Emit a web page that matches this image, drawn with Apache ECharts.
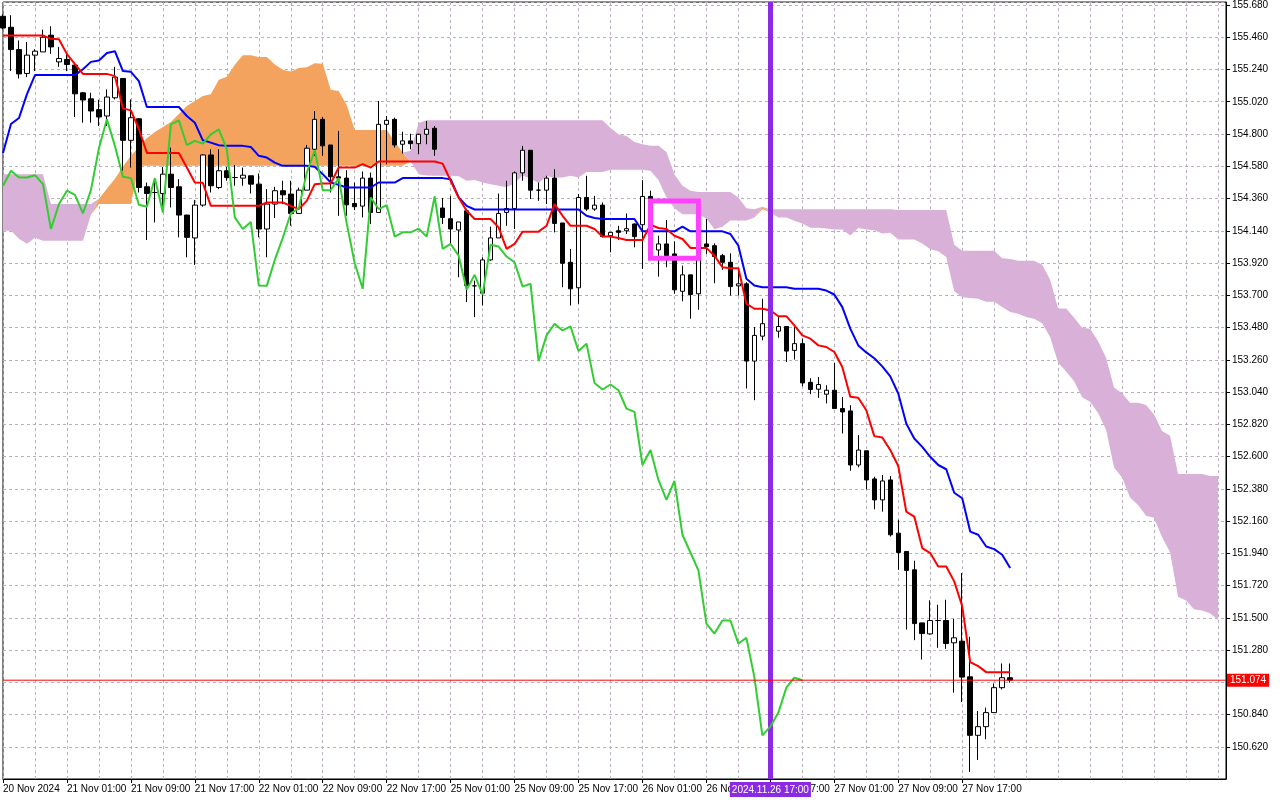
<!DOCTYPE html>
<html>
<head>
<meta charset="utf-8">
<script src="https://cdn.jsdelivr.net/npm/echarts@6/dist/echarts.min.js"></script>
<style>html,body{margin:0;padding:0;background:#fff}#chart{width:1280px;height:800px}</style>
</head>
<body>
<div id="chart"></div>
<script>
// ---- data (USDJPY H1, Ichimoku) ----
const tickLabels = ['20 Nov 2024','21 Nov 01:00','21 Nov 09:00','21 Nov 17:00','22 Nov 01:00','22 Nov 09:00',
  '22 Nov 17:00','25 Nov 01:00','25 Nov 09:00','25 Nov 17:00','26 Nov 01:00','26 Nov 09:00','26 Nov 17:00',
  '27 Nov 01:00','27 Nov 09:00','27 Nov 17:00'];

const opens = [
155.603,155.528,155.376,155.213,155.338,155.360,155.474,155.292,155.308,155.270,
155.081,155.040,154.966,154.923,155.047,155.179,154.757,154.904,154.440,154.401,
154.394,154.526,154.440,154.247,154.091,154.315,154.657,154.435,154.549,154.503,
154.499,154.515,154.458,154.152,154.322,154.413,154.390,154.258,154.417,154.696,
154.900,154.725,154.508,154.499,154.326,154.308,154.499,154.265,154.866,154.900,
154.730,154.753,154.734,154.798,154.839,154.295,154.222,154.145,154.276,153.764,
153.714,153.941,154.091,154.265,154.292,154.535,154.689,154.417,154.417,154.499,
154.193,153.925,153.751,154.367,154.288,154.315,154.106,154.140,154.140,154.186,
154.181,154.374,154.009,154.050,153.982,153.727,153.839,153.710,154.050,154.038,
153.970,153.925,153.764,153.778,153.251,153.421,153.506,153.455,153.487,153.324,
153.370,153.106,153.059,153.025,153.052,152.927,152.911,152.542,152.639,152.447,
152.304,152.440,152.077,151.952,151.827,151.465,151.390,151.481,151.481,151.329,
151.340,151.097,150.698,150.757,150.853,151.023,151.091];

const closes = [
155.523,155.376,155.210,155.338,155.365,155.460,155.394,155.315,155.274,155.074,
155.032,154.957,154.916,155.052,155.188,154.757,154.911,154.435,154.394,154.401,
154.526,154.435,154.247,154.095,154.315,154.657,154.447,154.549,154.503,154.503,
154.519,154.458,154.152,154.322,154.413,154.385,154.258,154.417,154.703,154.900,
154.719,154.508,154.499,154.317,154.304,154.499,154.265,154.866,154.893,154.725,
154.753,154.734,154.798,154.832,154.696,154.231,154.152,154.200,153.766,153.764,
153.941,154.091,154.258,154.292,154.535,154.689,154.417,154.417,154.499,154.190,
153.918,153.744,154.367,154.288,154.315,154.100,154.129,154.129,154.154,154.100,
154.374,154.016,154.050,153.970,153.737,153.839,153.705,154.045,154.032,153.964,
153.925,153.759,153.778,153.251,153.426,153.506,153.460,153.487,153.319,153.370,
153.102,153.057,153.091,153.052,152.927,152.904,152.542,152.644,152.440,152.304,
152.433,152.066,151.945,151.823,151.460,151.392,151.481,151.481,151.324,151.363,
151.095,150.698,150.757,150.853,151.023,151.091,151.074];

const highs = [
155.617,155.610,155.438,155.428,155.379,155.512,155.535,155.394,155.342,155.276,
155.086,155.081,155.034,155.104,155.258,155.181,155.036,154.909,154.469,154.492,
154.576,154.707,154.492,154.249,154.349,154.662,154.696,154.696,154.576,154.589,
154.571,154.515,154.530,154.424,154.440,154.481,154.481,154.435,154.725,154.957,
154.916,154.725,154.821,154.553,154.469,154.544,154.537,155.025,154.923,154.911,
154.816,154.802,154.802,154.889,154.855,154.363,154.378,154.200,154.290,153.800,
153.959,154.168,154.394,154.481,154.544,154.719,154.689,154.469,154.515,154.560,
154.193,154.016,154.390,154.515,154.378,154.333,154.129,154.174,154.258,154.190,
154.485,154.413,154.106,154.213,154.068,153.902,153.839,154.100,154.220,154.054,
153.982,153.986,153.880,153.789,153.483,153.676,153.542,153.551,153.487,153.483,
153.404,153.134,153.142,153.086,153.238,153.006,152.950,152.746,152.639,152.462,
152.474,152.467,152.168,151.952,151.889,151.465,151.619,151.589,151.623,151.492,
151.805,151.370,150.864,150.887,151.052,151.188,151.188];

const lows = [
155.515,155.229,155.179,155.188,155.229,155.360,155.347,155.258,155.229,154.916,
154.877,154.877,154.855,154.855,155.036,154.549,154.571,154.401,154.077,154.197,
154.276,154.299,154.095,153.959,153.907,154.304,154.401,154.424,154.481,154.447,
154.447,154.394,154.095,153.959,154.227,154.322,154.174,154.254,154.417,154.651,
154.651,154.401,154.242,154.242,154.281,154.231,154.186,154.265,154.594,154.707,
154.666,154.696,154.662,154.730,154.651,154.186,154.050,153.823,153.653,153.551,
153.630,153.936,154.091,154.174,154.152,154.481,154.356,154.344,154.322,154.129,
153.755,153.630,153.642,154.276,154.276,154.095,153.993,154.077,154.118,154.027,
153.880,153.970,153.827,153.891,153.710,153.659,153.540,153.601,153.982,153.782,
153.873,153.698,153.698,153.064,152.984,153.392,153.413,153.410,153.245,153.261,
153.079,153.025,153.000,152.962,152.927,152.757,152.503,152.526,152.376,152.240,
152.224,152.054,151.827,151.419,151.347,151.215,151.385,151.295,151.288,150.989,
150.925,150.449,150.530,150.671,150.853,151.011,151.057];

const tenkan = [
155.472,155.472,155.472,155.472,155.472,155.472,155.449,155.447,155.345,155.276,
155.210,155.210,155.210,155.210,155.195,154.975,154.961,154.834,154.671,154.671,
154.671,154.671,154.671,154.571,154.469,154.467,154.310,154.310,154.310,154.310,
154.310,154.310,154.310,154.333,154.333,154.333,154.310,154.288,154.344,154.458,
154.462,154.462,154.571,154.571,154.571,154.594,154.571,154.612,154.612,154.612,
154.612,154.612,154.612,154.612,154.612,154.598,154.481,154.367,154.276,154.220,
154.220,154.220,154.163,154.016,154.050,154.134,154.134,154.134,154.174,154.322,
154.242,154.174,154.174,154.174,154.152,154.100,154.100,154.091,154.077,154.077,
154.077,154.181,154.159,154.152,154.106,154.084,154.023,154.023,154.023,153.970,
153.891,153.884,153.884,153.642,153.608,153.608,153.596,153.557,153.557,153.494,
153.426,153.404,153.358,153.347,153.313,153.210,153.008,153.001,152.916,152.739,
152.730,152.644,152.535,152.224,152.190,151.975,151.941,151.850,151.850,151.748,
151.578,151.197,151.170,151.129,151.129,151.129,151.129];

const kijun = [
154.671,154.868,154.909,155.072,155.202,155.202,155.202,155.202,155.202,155.202,
155.242,155.292,155.302,155.353,155.365,155.229,155.224,155.161,154.984,154.984,
154.984,154.984,154.984,154.923,154.877,154.757,154.741,154.723,154.719,154.719,
154.719,154.712,154.651,154.639,154.605,154.583,154.583,154.583,154.583,154.576,
154.526,154.469,154.453,154.435,154.435,154.435,154.435,154.469,154.469,154.469,
154.499,154.499,154.499,154.499,154.499,154.499,154.492,154.367,154.310,154.285,
154.285,154.285,154.285,154.285,154.285,154.285,154.285,154.285,154.285,154.285,
154.285,154.285,154.285,154.242,154.227,154.220,154.220,154.220,154.220,154.220,
154.136,154.136,154.136,154.136,154.136,154.168,154.136,154.136,154.136,154.136,
154.136,154.118,154.038,153.812,153.766,153.755,153.755,153.755,153.755,153.744,
153.744,153.744,153.744,153.732,153.705,153.619,153.472,153.358,153.310,153.270,
153.215,153.147,153.030,152.825,152.723,152.666,152.598,152.542,152.513,152.353,
152.315,152.088,152.066,151.986,151.968,151.930,151.839];

const senkouA = [
154.140,154.140,154.086,154.052,154.093,154.072,154.072,154.072,154.072,154.072,
154.072,154.249,154.358,154.426,154.494,154.576,154.651,154.712,154.773,154.814,
154.848,154.882,154.936,154.991,155.025,155.059,155.072,155.170,155.191,155.272,
155.337,155.337,155.326,155.325,155.274,155.239,155.226,155.251,155.256,155.282,
155.280,155.102,155.093,154.998,154.828,154.828,154.828,154.828,154.828,154.747,
154.673,154.612,154.526,154.517,154.515,154.515,154.515,154.511,154.481,154.486,
154.469,154.458,154.447,154.436,154.464,154.517,154.494,154.466,154.512,154.503,
154.503,154.515,154.503,154.541,154.541,154.541,154.556,154.556,154.556,154.556,
154.556,154.549,154.487,154.367,154.293,154.253,154.253,154.253,154.224,154.151,
154.168,154.210,154.210,154.210,154.230,154.304,154.264,154.230,154.230,154.208,
154.190,154.160,154.160,154.156,154.149,154.149,154.107,154.159,154.148,154.144,
154.121,154.126,154.080,154.080,154.080,154.053,154.014,154.001,153.961,153.727,
153.687,153.682,153.676,153.656,153.656,153.619,153.585,153.574,153.551,153.540,
153.509,153.415,153.240,153.180,153.113,153.005,152.973,152.896,152.783,152.525,
152.457,152.321,152.270,152.196,152.182,152.051,151.947,151.643,151.618,151.558,
151.549,151.530,151.484];

const senkouB = [
154.526,154.526,154.526,154.526,154.526,154.526,154.322,154.322,154.322,154.322,
154.322,154.322,154.322,154.322,154.322,154.322,154.322,154.583,154.583,154.583,
154.583,154.583,154.583,154.583,154.583,154.583,154.583,154.583,154.583,154.583,
154.583,154.583,154.583,154.583,154.583,154.583,154.583,154.583,154.583,154.583,
154.583,154.583,154.583,154.583,154.583,154.583,154.583,154.583,154.583,154.583,
154.583,154.685,154.875,154.893,154.893,154.893,154.893,154.893,154.893,154.893,
154.893,154.893,154.893,154.893,154.893,154.893,154.893,154.893,154.893,154.893,
154.893,154.893,154.893,154.893,154.893,154.893,154.841,154.798,154.787,154.746,
154.730,154.719,154.719,154.678,154.523,154.447,154.413,154.404,154.404,154.404,
154.404,154.404,154.366,154.293,154.287,154.287,154.287,154.287,154.287,154.287,
154.287,154.287,154.287,154.287,154.287,154.287,154.287,154.287,154.287,154.287,
154.287,154.287,154.282,154.282,154.282,154.282,154.282,154.282,154.282,154.044,
154.004,154.004,154.004,154.004,154.004,153.953,153.947,153.936,153.936,153.936,
153.908,153.806,153.610,153.610,153.547,153.479,153.471,153.386,153.273,153.069,
153.032,152.967,152.967,152.952,152.887,152.774,152.742,152.481,152.481,152.481,
152.481,152.467,152.467];

const chikouShift = 26;                       // Chikou = close plotted 26 bars back
const cursorTime = '2024.11.26 17:00';        // vertical marker line
const boxTimes = ['2024.11.26 02:00', '2024.11.26 08:00'];   // rectangle object
const boxPrices = [154.343, 153.952];
const slotCount = 154;                         // bars + 26 future slots of the cloud

// ---- build the hourly (trading-hours) category axis ----
const pad = n => String(n).padStart(2, '0');
const slots = [];
for (let t = Date.UTC(2024, 10, 20, 17); slots.length < slotCount; t += 3600000) {
  const d = new Date(t); const wd = d.getUTCDay();
  if (wd === 0 || wd === 6) continue;
  slots.push(d.getUTCFullYear() + '.' + pad(d.getUTCMonth() + 1) + '.' + pad(d.getUTCDate()) + ' ' + pad(d.getUTCHours()) + ':00');
}

const candles = opens.map((o, i) => [o, closes[i], lows[i], highs[i]]);
const chikou = closes.slice(chikouShift);
const cloudLow = senkouA.map((a, i) => Math.min(a, senkouB[i]));
const bullBand = senkouA.map((a, i) => Math.max(a - senkouB[i], 0));
const bearBand = senkouA.map((a, i) => Math.max(senkouB[i] - a, 0));
const lastClose = closes[closes.length - 1];
const boxPath = [[boxTimes[0], boxPrices[0]], [boxTimes[1], boxPrices[0]], [boxTimes[1], boxPrices[1]],
                 [boxTimes[0], boxPrices[1]], [boxTimes[0], boxPrices[0]]];
const priceLine = [[slots[0], lastClose], [slots[slots.length - 1], lastClose]];

const FONT = "'Liberation Sans', Arial, sans-serif";
const gridLine = { color: '#b9b0bc', type: [3, 3], width: 1 };
const showTick = i => i % 8 === 0 && i / 8 < tickLabels.length;

const chart = echarts.init(document.getElementById('chart'));
chart.setOption({
  animation: false,
  backgroundColor: '#ffffff',
  grid: { left: 2, right: 54, top: 1, bottom: 21, show: true, borderColor: '#000', borderWidth: 1, backgroundColor: '#fff' },
  xAxis: {
    type: 'category', data: slots, boundaryGap: false,
    axisLine: { lineStyle: { color: '#000', width: 1 } },
    axisTick: { show: true, length: 4, interval: showTick, lineStyle: { color: '#000' } },
    axisLabel: { interval: showTick, formatter: (v, i) => tickLabels[i / 8] || '', align: 'left',
      color: '#000', fontSize: 10, fontFamily: FONT, margin: 5 },
    splitLine: { show: true, interval: i => i % 4 === 0, lineStyle: gridLine }
  },
  yAxis: {
    type: 'value', position: 'right', min: 150.40, max: 155.70, interval: 0.22,
    axisLine: { show: true, lineStyle: { color: '#000', width: 1 } },
    axisTick: { show: true, length: 4, lineStyle: { color: '#000' } },
    axisLabel: { showMinLabel: false, showMaxLabel: false, color: '#000', fontSize: 10, fontFamily: FONT, margin: 6,
      formatter: v => Math.abs(v - lastClose) < 0.02 ? '' : v.toFixed(3) },
    splitLine: { show: true, lineStyle: gridLine }
  },
  series: [
    { type: 'line', data: cloudLow, stack: 'cloud', symbol: 'none', silent: true, z: 1,
      lineStyle: { opacity: 0 } },
    { type: 'line', data: bullBand, stack: 'cloud', symbol: 'none', silent: true, z: 1,
      lineStyle: { opacity: 0 }, areaStyle: { color: '#f3a35e', opacity: 1 } },
    { type: 'line', data: bearBand, stack: 'cloud', symbol: 'none', silent: true, z: 1,
      lineStyle: { opacity: 0 }, areaStyle: { color: '#d9b0d7', opacity: 1 } },
    { type: 'candlestick', data: candles, barWidth: 5, z: 3,
      itemStyle: { color: '#ffffff', color0: '#000000', borderColor: '#000000', borderColor0: '#000000', borderWidth: 1 } },
    { type: 'line', data: kijun, symbol: 'none', z: 4, lineStyle: { color: '#0000ff', width: 2 } },
    { type: 'line', data: tenkan, symbol: 'none', z: 4, lineStyle: { color: '#ff0000', width: 2 } },
    { type: 'line', data: chikou, symbol: 'none', z: 5, lineStyle: { color: '#32cd32', width: 2 } },
    { type: 'line', data: priceLine, symbol: 'none', z: 6, silent: true, color: '#ff0000',
      lineStyle: { color: '#ff0000', width: 1 },
      endLabel: { show: true, distance: 1, formatter: () => lastClose.toFixed(3), color: '#fff',
        backgroundColor: '#ff0000', fontSize: 10, fontFamily: FONT, padding: [2, 3, 1, 3] } },
    { type: 'line', data: boxPath, symbol: 'none', z: 6, silent: true,
      lineStyle: { color: '#ff40ff', width: 5, join: 'miter', cap: 'square' },
      markLine: { silent: true, symbol: ['none', 'none'], animation: false,
        lineStyle: { color: '#8a2be2', width: 5, type: 'solid', opacity: 1 },
        data: [
          { xAxis: cursorTime,
            label: { show: true, position: 'start', distance: 3, formatter: cursorTime, color: '#fff',
              backgroundColor: '#8a2be2', fontSize: 10, fontFamily: FONT, padding: [3, 2, 2, 2] } }
        ] } }
  ]
});
</script>
</body>
</html>
